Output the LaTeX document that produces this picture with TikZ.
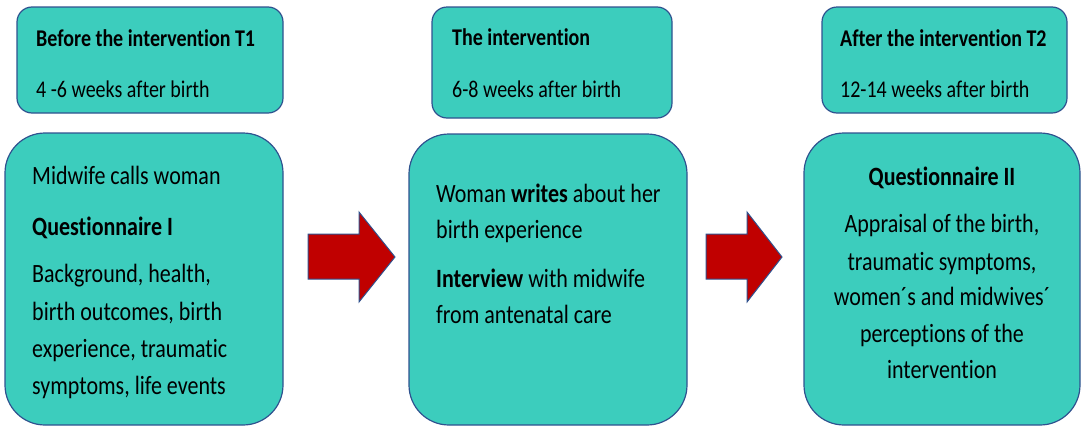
\documentclass[tikz,border=0pt]{standalone}
\usepackage{fontspec}
\usepackage{graphicx}
\setmainfont[Ligatures=NoCommon]{Carlito}
\usetikzlibrary{positioning}
\definecolor{boxfill}{HTML}{3CCDBD}
\definecolor{boxline}{HTML}{2F528F}
\definecolor{arrowred}{HTML}{C00000}
\newcommand{\tall}[1]{\scalebox{1}[1.2]{#1}}
\tikzset{
	phasebox/.style={draw=boxline, fill=boxfill, line width=1.2pt, rounded corners=15pt},
	contentbox/.style={draw=boxline, fill=boxfill, line width=1.2pt, rounded corners=40pt},
	bodytxt/.style={anchor=base west, inner sep=0pt, font=\fontsize{22}{26}\selectfont},
	midtxt/.style={anchor=base, inner sep=0pt, font=\fontsize{22}{26}\selectfont},
	headtxt/.style={anchor=base west, inner sep=0pt, font=\fontsize{20}{24}\selectfont},
	blockarrow/.style={draw=boxline, fill=arrowred, line width=1pt, line join=miter}
}
\begin{document}
\begin{tikzpicture}[x=1pt, y=-1pt]
			\useasboundingbox (0,0) rectangle (1082,426);
			
			%Before the intervention
			\draw[phasebox] (17,7) rectangle (283,113);
			\node[headtxt] (h1) at (36,46) {\tall{\textbf{Before the intervention T1}}};
			\node[headtxt] (w1) at (36,97) {\tall{4 -6 weeks after birth}};
			
			\draw[contentbox] (5,133) rectangle (283,425);
			\node[bodytxt] (a1) at (32,184) {\tall{Midwife calls woman}};
			\node[bodytxt] (a2) at (32,235) {\tall{\textbf{Questionnaire I}}};
			\node[bodytxt] (a3) at (32,282) {\tall{Background, health,}};
			\node[bodytxt] (a4) at (32,320) {\tall{birth outcomes, birth}};
			\node[bodytxt] (a5) at (32,357) {\tall{experience, traumatic}};
			\node[bodytxt] (a6) at (32,394) {\tall{symptoms, life events}};
			
			%Arrow
			\draw[blockarrow] (308,234) -- (359,234) -- (359,212) -- (395,257)
				-- (359,302) -- (359,279) -- (308,279) -- cycle;
			
			%The intervention
			\draw[phasebox] (432,7) rectangle (672,118);
			\node[headtxt] (h2) at (452,45) {\tall{\textbf{The intervention}}};
			\node[headtxt] (w2) at (452,97) {\tall{6-8 weeks after birth}};
			
			\draw[contentbox] (409,134) rectangle (687,425);
			\node[bodytxt] (b1) at (436,202) {\tall{Woman \textbf{writes} about her}};
			\node[bodytxt] (b2) at (436,238) {\tall{birth experience}};
			\node[bodytxt] (b3) at (436,287) {\tall{\textbf{Interview} with midwife}};
			\node[bodytxt] (b4) at (436,323) {\tall{from antenatal care}};
			
			%Arrow
			\draw[blockarrow] (706,234) -- (747,234) -- (747,212) -- (782,257)
				-- (747,302) -- (747,279) -- (706,279) -- cycle;
			
			%After the intervention
			\draw[phasebox] (822,7) rectangle (1067,113);
			\node[headtxt] (h3) at (840,46) {\tall{\textbf{After the intervention T2}}};
			\node[headtxt] (w3) at (840,97) {\tall{12-14 weeks after birth}};
			
			\draw[contentbox] (804,133) rectangle (1080,425);
			\def\x{942}
			\node[midtxt] (c1) at (\x,185) {\tall{\textbf{Questionnaire II}}};
			\node[midtxt] (c2) at (\x,232) {\tall{Appraisal of the birth,}};
			\node[midtxt] (c3) at (\x,270) {\tall{traumatic symptoms,}};
			\node[midtxt] (c4) at (\x,305) {\tall{women´s and midwives´}};
			\node[midtxt] (c5) at (\x,342) {\tall{perceptions of the}};
			\node[midtxt] (c6) at (\x,378) {\tall{intervention}};
		\end{tikzpicture}
\end{document}
